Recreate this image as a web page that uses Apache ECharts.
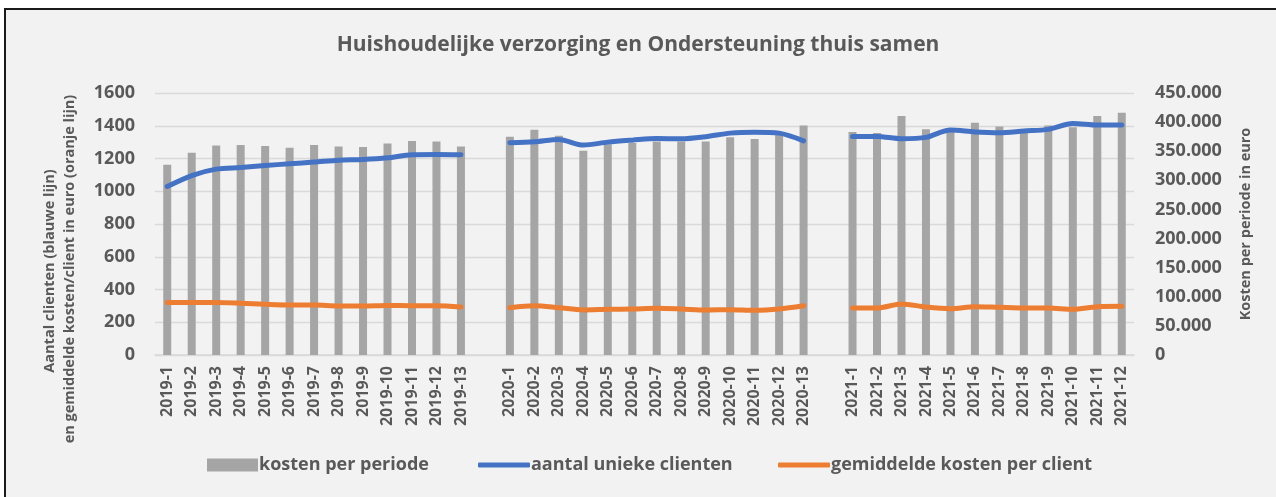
<!DOCTYPE html>
<html>
<head>
<meta charset="utf-8">
<script src="https://cdn.jsdelivr.net/npm/echarts@6/dist/echarts.min.js"></script>
<style>
  html, body { margin: 0; padding: 0; background: #ffffff; }
  #wrap { position: relative; width: 1276px; height: 497px; overflow: hidden; background: #fff; }
  #frame { position: absolute; left: 4px; top: 8px; width: 1290px; height: 500px; background: #f2f2f2;
           border-left: 2px solid #1a1a1a; border-top: 2px solid #1a1a1a; }
  #chart { position: absolute; left: 0; top: 0; width: 1276px; height: 497px; }
</style>
</head>
<body>
<div id="wrap">
  <div id="frame"></div>
  <div id="chart"></div>
</div>
<script>
// ---- data ----
const periods2019 = ['2019-1','2019-2','2019-3','2019-4','2019-5','2019-6','2019-7','2019-8','2019-9','2019-10','2019-11','2019-12','2019-13'];
const periods2020 = ['2020-1','2020-2','2020-3','2020-4','2020-5','2020-6','2020-7','2020-8','2020-9','2020-10','2020-11','2020-12','2020-13'];
const periods2021 = ['2021-1','2021-2','2021-3','2021-4','2021-5','2021-6','2021-7','2021-8','2021-9','2021-10','2021-11','2021-12'];

const kosten2019 = [326700, 347300, 359900, 360500, 358800, 355900, 360500, 358200, 357100, 363300, 367400, 366800, 357900];
const kosten2020 = [374900, 386900, 376600, 350800, 362000, 364000, 366800, 366800, 366500, 374000, 370900, 382000, 394000];
const kosten2021 = [383200, 381200, 410700, 387700, 383000, 399100, 392600, 385000, 394000, 391200, 410500, 416100];

const clienten2019 = [1029, 1096, 1135, 1145, 1157, 1168, 1178, 1190, 1194, 1204, 1223, 1225, 1223];
const clienten2020 = [1296, 1302, 1316, 1282, 1300, 1312, 1322, 1320, 1333, 1355, 1361, 1355, 1308];
const clienten2021 = [1335, 1335, 1321, 1329, 1374, 1362, 1357, 1368, 1378, 1414, 1404, 1404];

const gemiddeld2019 = [320, 320, 320, 316, 310, 306, 306, 300, 300, 303, 301, 301, 293];
const gemiddeld2020 = [289, 301, 289, 275, 279, 281, 285, 281, 275, 277, 273, 281, 301];
const gemiddeld2021 = [287, 287, 312, 293, 283, 295, 291, 287, 287, 279, 295, 297];

const leftTicks = { min: 0, max: 1600, interval: 200 };
const rightTicks = { min: 0, max: 450000, interval: 50000 };

const titleText = 'Huishoudelijke verzorging en Ondersteuning thuis samen';
const leftName1 = 'Aantal clienten (blauwe lijn)';
const leftName2 = 'en gemiddelde kosten/client in euro (oranje lijn)';
const rightName = 'Kosten per periode in euro';
const seriesNames = ['kosten per periode', 'aantal unieke clienten', 'gemiddelde kosten per client'];

// ---- build category axis with one empty slot between years ----
const categories = [...periods2019, '', ...periods2020, '', ...periods2021];
const kosten = [...kosten2019, null, ...kosten2020, null, ...kosten2021];
const clienten = [...clienten2019, null, ...clienten2020, null, ...clienten2021];
const gemiddeld = [...gemiddeld2019, null, ...gemiddeld2020, null, ...gemiddeld2021];

const FONT = '"Open Sans"';
const TXT = '#595959';
const legendText = { fontFamily: FONT, fontWeight: 'bold', fontSize: 18, color: TXT, padding: [0, 0, 0, -4] };

const chart = echarts.init(document.getElementById('chart'), null, { renderer: 'canvas' });
chart.setOption({
  backgroundColor: 'transparent',
  animation: false,
  textStyle: { fontFamily: FONT },
  title: {
    text: titleText,
    left: 'center',
    top: 30,
    textStyle: { fontFamily: FONT, fontWeight: 'bold', fontSize: 21, color: TXT }
  },
  grid: { left: 155, right: 142, top: 93, bottom: 142 },
  legend: [
    {
      left: 207, top: 456, padding: 0, itemWidth: 51, itemHeight: 13,
      textStyle: legendText,
      data: [{ name: seriesNames[0], icon: 'rect' }]
    },
    {
      left: 478, top: 456, padding: 0, itemWidth: 52, itemHeight: 5,
      textStyle: legendText,
      data: [{ name: seriesNames[1], icon: 'roundRect' }]
    },
    {
      left: 778, top: 456, padding: 0, itemWidth: 52, itemHeight: 5,
      textStyle: legendText,
      data: [{ name: seriesNames[2], icon: 'roundRect' }]
    }
  ],
  xAxis: {
    type: 'category',
    data: categories,
    boundaryGap: true,
    axisLine: { show: true, lineStyle: { color: '#d9d9d9', width: 1.5 } },
    axisTick: { show: false },
    axisLabel: {
      interval: 0, rotate: 90, margin: 11,
      fontFamily: FONT, fontWeight: 'bold', fontSize: 16, color: TXT
    }
  },
  yAxis: [
    {
      type: 'value',
      min: leftTicks.min, max: leftTicks.max, interval: leftTicks.interval,
      axisLine: { show: false }, axisTick: { show: false },
      splitLine: { show: true, lineStyle: { color: '#d9d9d9', width: 1.3 } },
      axisLabel: { margin: 20, fontFamily: FONT, fontWeight: 'bold', fontSize: 18, color: TXT,
        formatter: v => String(v) }
    },
    {
      type: 'value',
      min: rightTicks.min, max: rightTicks.max, interval: rightTicks.interval,
      position: 'right',
      axisLine: { show: false }, axisTick: { show: false },
      splitLine: { show: false },
      axisLabel: {
        margin: 21, fontFamily: FONT, fontWeight: 'bold', fontSize: 18, color: TXT,
        formatter: v => v === 0 ? '0' : String(v).replace(/\B(?=(\d{3})+(?!\d))/g, '.')
      }
    }
  ],
  series: [
    {
      name: seriesNames[0], type: 'bar', yAxisIndex: 1,
      data: kosten, barWidth: 8,
      itemStyle: { color: '#a5a5a5' }, z: 1
    },
    {
      name: seriesNames[1], type: 'line', yAxisIndex: 0,
      data: clienten, smooth: 0.3, showSymbol: false, symbol: 'none',
      connectNulls: false,
      lineStyle: { color: '#4472c4', width: 5, cap: 'round', join: 'round' },
      itemStyle: { color: '#4472c4' }, z: 3
    },
    {
      name: seriesNames[2], type: 'line', yAxisIndex: 0,
      data: gemiddeld, smooth: 0.3, showSymbol: false, symbol: 'none',
      connectNulls: false,
      lineStyle: { color: '#ed7d31', width: 5, cap: 'round', join: 'round' },
      itemStyle: { color: '#ed7d31' }, z: 3
    }
  ],
  graphic: [
    {
      type: 'text', x: 50, y: 271, rotation: Math.PI / 2,
      style: { text: leftName1, fill: TXT, font: 'bold 14.5px ' + FONT, textAlign: 'center', textVerticalAlign: 'middle' }
    },
    {
      type: 'text', x: 70, y: 269, rotation: Math.PI / 2,
      style: { text: leftName2, fill: TXT, font: 'bold 14.5px ' + FONT, textAlign: 'center', textVerticalAlign: 'middle' }
    },
    {
      type: 'text', x: 1246, y: 224, rotation: Math.PI / 2,
      style: { text: rightName, fill: TXT, font: 'bold 14.5px ' + FONT, textAlign: 'center', textVerticalAlign: 'middle' }
    }
  ]
});
</script>
</body>
</html>
